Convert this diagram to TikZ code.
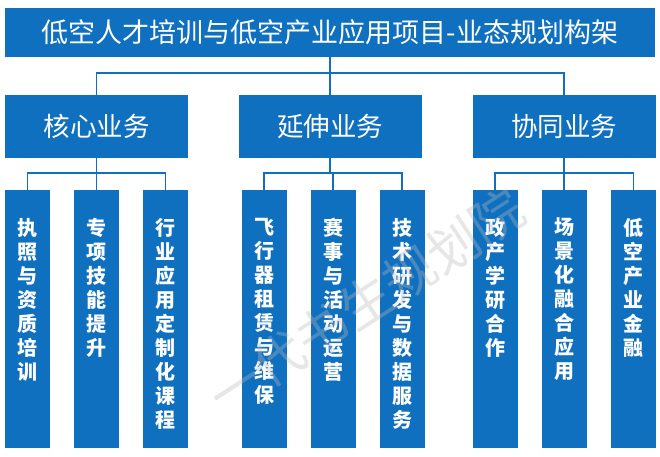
\documentclass[tikz,border=0pt]{standalone}
\usepackage{fontspec}
\newfontfamily\cjk{Noto Sans CJK SC}
\definecolor{mainblue}{HTML}{1070C0}
\begin{document}
\begin{tikzpicture}[x=1pt,y=-1pt,
  blk/.style={fill=mainblue, draw=none, inner sep=0pt, text=white},
  titlebox/.style={blk, minimum width=650pt, minimum height=49pt, font=\cjk\fontsize{27}{30}\selectfont},
  catbox/.style={blk, minimum width=183pt, minimum height=63pt, font=\cjk\fontsize{26.5}{30}\selectfont},
  leafbox/.style={blk, minimum width=45pt, minimum height=258pt},
  leaftext/.style={anchor=north, inner sep=0pt, text=white, align=center, font=\cjk\bfseries\fontsize{20}{24}\selectfont},
  conn/.style={draw=mainblue, line width=1.5pt}
]
\useasboundingbox (0,0) rectangle (660,456);
\fill[white] (0,0) rectangle (660,456);

\node[titlebox] (title) at (330,32.5) {低空人才培训与低空产业应用项目-业态规划构架};

\node[catbox] (c1) at (96.5,126.5) {核心业务};
\node[catbox] (c2) at (330,126.5) {延伸业务};
\node[catbox] (c3) at (564,126.5) {协同业务};

\foreach \n/\x in {l1/27.5,l2/96.5,l3/165.5,l4/264,l5/333,l6/402,l7/495,l8/564,l9/633.5}{
  \node[leafbox] (\n) at (\x,319) {};
}

\node[leaftext] (t1) at ([yshift=-28pt]l1.north) {执\\照\\与\\资\\质\\培\\训};
\node[leaftext] (t2) at ([yshift=-28pt]l2.north) {专\\项\\技\\能\\提\\升};
\node[leaftext] (t3) at ([yshift=-28pt]l3.north) {行\\业\\应\\用\\定\\制\\化\\课\\程};
\node[leaftext] (t4) at ([yshift=-28pt]l4.north) {飞\\行\\器\\租\\赁\\与\\维\\保};
\node[leaftext] (t5) at ([yshift=-28pt]l5.north) {赛\\事\\与\\活\\动\\运\\营};
\node[leaftext] (t6) at ([yshift=-28pt]l6.north) {技\\术\\研\\发\\与\\数\\据\\服\\务};
\node[leaftext] (t7) at ([yshift=-28pt]l7.north) {政\\产\\学\\研\\合\\作};
\node[leaftext] (t8) at ([yshift=-28pt]l8.north) {场\\景\\化\\融\\合\\应\\用};
\node[leaftext] (t9) at ([yshift=-28pt]l9.north) {低\\空\\产\\业\\金\\融};

% connectors
\draw[conn] (title.south) -- ++(0,16);
\draw[conn] (c1.north) -- ++(0,-22) -| (c3.north);
\draw[conn] (c2.north) -- ++(0,-22);

\draw[conn] (c1.south) -- ++(0,15);
\draw[conn] (l1.north) -- ++(0,-17) -| (l3.north);
\draw[conn] (l2.north) -- ++(0,-17);

\draw[conn] (c2.south) -- ++(0,15);
\draw[conn] (l4.north) -- ++(0,-17) -| (l6.north);
\draw[conn] (l5.north) -- ++(0,-17);

\draw[conn] (c3.south) -- ++(0,15);
\draw[conn] (l7.north) -- ++(0,-17) -| (l9.north);
\draw[conn] (l8.north) -- ++(0,-17);

% watermark
\node[rotate=33, text=gray!55, opacity=0.35, inner sep=0pt, font=\cjk\fontsize{52}{52}\selectfont] (wm) at (366,302) {一代书生规划院};
\end{tikzpicture}
\end{document}
